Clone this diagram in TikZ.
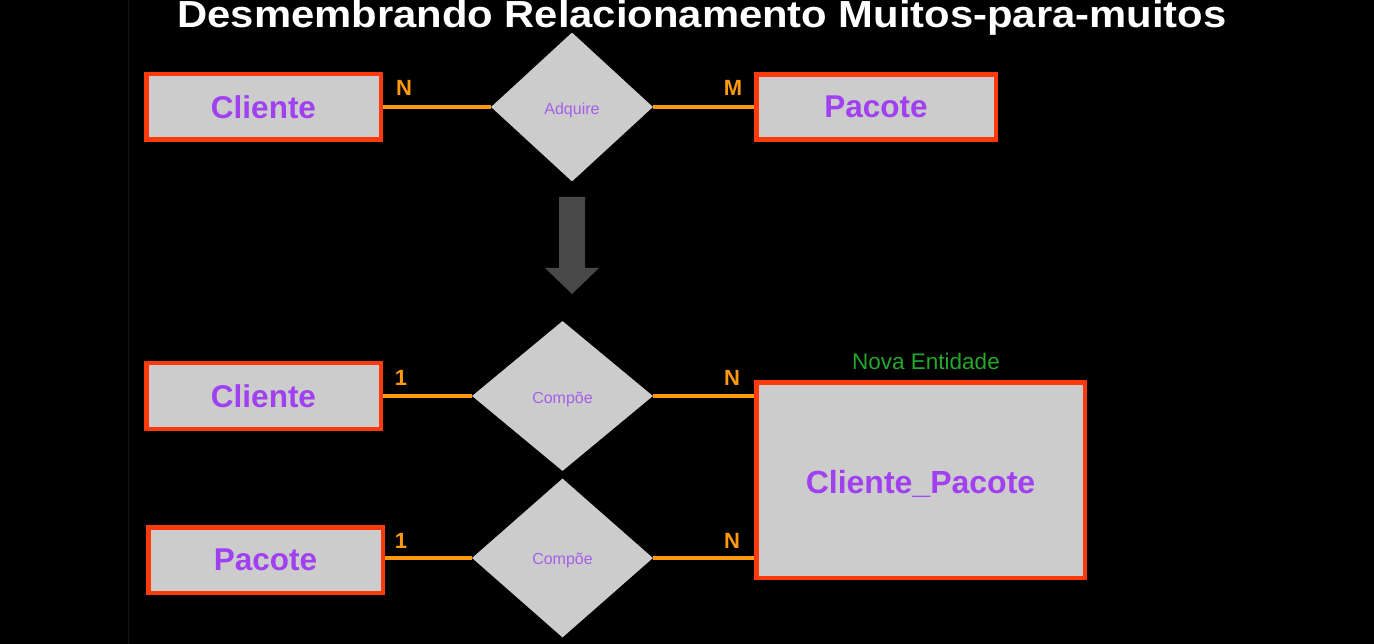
\documentclass[tikz,border=0pt]{standalone}
\usepackage{fontspec}
\setmainfont{Liberation Sans}
\usetikzlibrary{shapes.geometric}
\definecolor{boxfill}{HTML}{CCCCCC}
\definecolor{boxline}{HTML}{FF3A0A}
\definecolor{linkline}{HTML}{FF9A10}
\definecolor{entext}{HTML}{A040F0}
\definecolor{reltext}{HTML}{A55FE8}
\definecolor{cardtext}{HTML}{FF9A10}
\definecolor{newtext}{HTML}{22A82A}
\definecolor{arrowgray}{HTML}{484848}
\definecolor{sepline}{HTML}{121212}
\newcommand{\lowertext}[2]{\raisebox{-#1}[\height][\depth]{#2}}
\tikzset{
  entity/.style={rectangle, draw=boxline, line width=4.5pt, fill=boxfill,
    text=entext, font=\bfseries\fontsize{31.5}{36}\selectfont, inner sep=0pt},
  relation/.style={diamond, fill=boxfill, draw=none, text=reltext,
    font=\fontsize{16}{18}\selectfont, inner sep=0pt},
  link/.style={draw=linkline, line width=4pt},
  card/.style={text=cardtext, font=\bfseries\fontsize{22}{24}\selectfont, inner sep=0pt}
}
\begin{document}
\begin{tikzpicture}[x=1pt, y=-1pt]
\useasboundingbox (0,0) rectangle (1374,644);
\fill[black] (0,0) rectangle (1374,644);
\draw[sepline, line width=1pt] (128,0) -- (128,644);
% top row
\node[entity, minimum width=234.5pt, minimum height=65.5pt] (cli1) at (263.5,107) {Cliente};
\node[relation, minimum width=162pt, minimum height=149pt] (adq) at (572,107) {\lowertext{3.5pt}{Adquire}};
\node[entity, minimum width=239.5pt, minimum height=65pt] (pac1) at (876,107) {Pacote};
\draw[link] (cli1.east) -- (adq.west);
\draw[link] (adq.east) -- (pac1.west);
\node[card] (n1) at (404,88) {N};
\node[card] (m1) at (733,88) {M};
% arrow
\fill[arrowgray] (559,197) -- (585,197) -- (585,268) -- (599,268) -- (572,294) -- (545,268) -- (559,268) -- cycle;
% bottom
\node[entity, minimum width=234.5pt, minimum height=65.5pt] (cli2) at (263.5,396) {Cliente};
\node[relation, minimum width=181pt, minimum height=150pt] (comp1) at (562.5,396) {\lowertext{3pt}{Compõe}};
\node[entity, minimum width=328.5pt, minimum height=195.5pt, font=\bfseries\fontsize{32}{36}\selectfont] (cp) at (920.5,480) {\lowertext{4pt}{Cliente\_Pacote}};
\node[text=newtext, font=\fontsize{22.5}{24}\selectfont, inner sep=0pt] (nova) at (926,361) {Nova Entidade};
\draw[link] (cli2.east) -- (comp1.west);
\draw[link] (comp1.east) -- (cp.west |- comp1.east);
\node[card] (one1) at (401,378) {1};
\node[card] (nb1) at (732,378) {N};
\node[entity, minimum width=234.5pt, minimum height=65.5pt] (pac2) at (265.5,560) {Pacote};
\node[relation, minimum width=181pt, minimum height=159pt] (comp2) at (562.5,558) {\lowertext{2pt}{Compõe}};
\draw[link] (pac2.east |- comp2.west) -- (comp2.west);
\draw[link] (comp2.east) -- (cp.west |- comp2.east);
\node[card] (one2) at (401,541) {1};
\node[card] (nb2) at (732,541) {N};
% title
\node[text=white, font=\bfseries\fontsize{37.7}{40}\selectfont, anchor=base, inner sep=0pt] (title) at (702,28) {\scalebox{1.108}[1]{Desmembrando Relacionamento Muitos-para-muitos}};
\end{tikzpicture}
\end{document}
